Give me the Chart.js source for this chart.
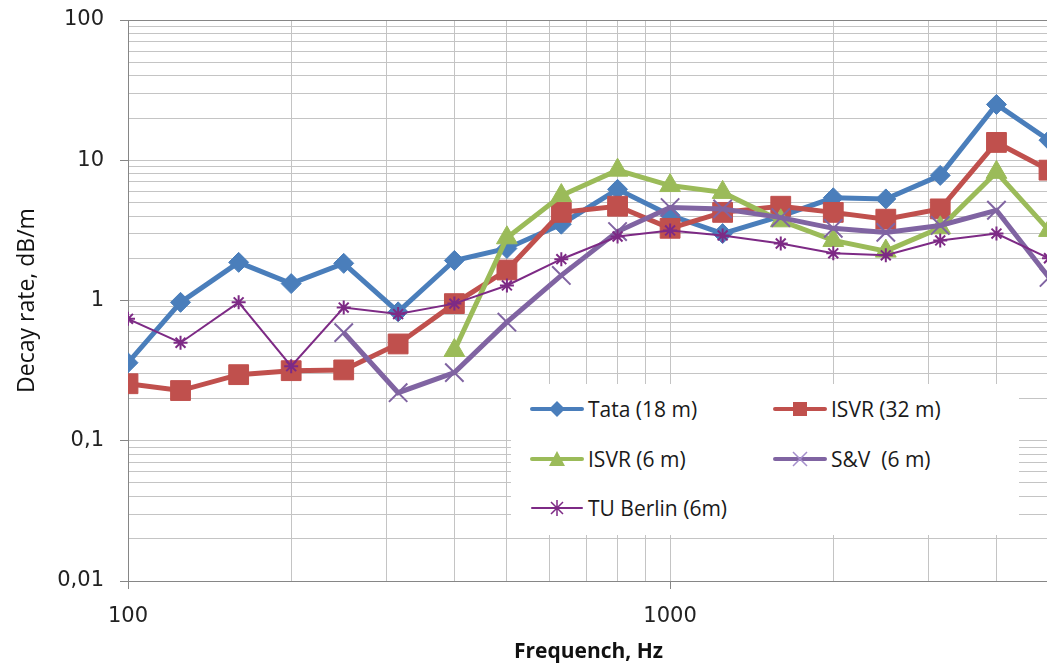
<!DOCTYPE html>
<html>
<head>
<meta charset="utf-8">
<script src="https://cdn.jsdelivr.net/npm/chart.js@4"></script>
<style>
  html, body { margin: 0; padding: 0; overflow: hidden; background: #fff; }
  #wrap { position: relative; width: 1100px; height: 666px; }
  #legend {
    position: absolute; left: 511px; top: 384px; width: 508px; height: 151px;
    background: #fff; font-family: "Open Sans", sans-serif; font-size: 21px; color: #1a1a1a;
  }
  .item { position: absolute; display: flex; align-items: center; white-space: pre; }
  .item svg { margin-right: 4px; }
</style>
</head>
<body>
<div id="wrap">
  <canvas id="chart" width="1100" height="666"></canvas>
  <div id="legend"></div>
</div>
<script>
// 1/3 octave band centre frequencies
const freqs = [100, 125, 160, 200, 250, 315, 400, 500, 630, 800, 1000, 1250, 1600, 2000, 2500, 3150, 4000, 5000];

// decay rate, dB/m
const tata18 = [0.36, 0.97, 1.87, 1.32, 1.84, 0.83, 1.93, 2.35, 3.5, 6.2, 4.05, 3.0, 4.0, 5.4, 5.3, 7.8, 25, 13.9];
const isvr32 = [0.255, 0.228, 0.296, 0.316, 0.32, 0.49, 0.95, 1.65, 4.25, 4.7, 3.27, 4.25, 4.7, 4.25, 3.8, 4.5, 13.4, 8.5];
const isvr6 = [null, null, null, null, null, null, 0.44, 2.8, 5.6, 8.5, 6.6, 5.9, 3.7, 2.68, 2.25, 3.3, 8.2, 3.16];
const sv6 = [null, null, null, null, 0.59, 0.22, 0.306, 0.70, 1.51, 3.1, 4.6, 4.5, 3.9, 3.27, 3.06, 3.43, 4.4, 1.46];
const tuBerlin = [0.74, 0.50, 0.97, 0.34, 0.89, 0.80, 0.95, 1.28, 1.97, 2.86, 3.16, 2.91, 2.55, 2.17, 2.1, 2.68, 3.0, 2.0];

const seriesNames = ["Tata (18 m)", "ISVR (32 m)", "ISVR (6 m)", "S&V  (6 m)", "TU Berlin (6m)"];

// labelled ticks
const xTickLabels = [100, 1000];
const yTickLabels = [0.01, 0.1, 1, 10, 100];

const points = vals => freqs.map((f, i) => ({ x: f, y: vals[i] }));

const styles = [
  { color: "#4a7ebb", width: 5, point: "rectRot", radius: 10, bw: 1 },
  { color: "#c0504d", width: 5, point: "rect", radius: 14, bw: 1 },
  { color: "#9bbb59", width: 5, point: "triangle", radius: 12, bw: 1 },
  { color: "#8064a2", width: 5, point: "crossRot", radius: 13, bw: 2 },
  { color: "#7d2a85", width: 2, point: "star", radius: 7, bw: 2 }
];

const allData = [tata18, isvr32, isvr6, sv6, tuBerlin];

const datasets = allData.map((vals, i) => ({
  label: seriesNames[i],
  data: points(vals),
  borderColor: styles[i].color,
  backgroundColor: styles[i].color,
  borderWidth: styles[i].width,
  pointStyle: styles[i].point,
  pointRadius: styles[i].radius,
  pointHoverRadius: styles[i].radius,
  pointBorderWidth: styles[i].bw,
  tension: 0,
  order: allData.length - i   // later series drawn on top, as in the original
}));

const isNear = (v, list) => list.some(l => Math.abs(Math.log10(v) - Math.log10(l)) < 1e-6);

// keep only 1..9 x 10^n grid ticks
const onlyIntegerMultiples = scale => {
  scale.ticks = scale.ticks.filter(t => {
    const m = t.value / Math.pow(10, Math.floor(Math.log10(t.value) + 1e-9));
    return Math.abs(m - Math.round(m)) < 1e-6;
  });
};

new Chart(document.getElementById("chart"), {
  type: "line",
  data: { datasets },
  options: {
    responsive: false,
    devicePixelRatio: 1,
    animation: false,
    layout: { padding: { left: 0, top: 20, right: 51, bottom: 0 } },
    plugins: { legend: { display: false }, tooltip: { enabled: false } },
    scales: {
      x: {
        type: "logarithmic",
        min: 100,
        max: 5000,
        afterBuildTicks: onlyIntegerMultiples,
        afterFit: s => { s.height = 85; s.paddingLeft = 0; s.paddingRight = 0; },
        border: { color: "#868686" },
        grid: {
          color: "#c4c4c4",
          tickLength: 8,
          tickColor: c => (c.tick && isNear(c.tick.value, xTickLabels)) ? "#868686" : "rgba(0,0,0,0)"
        },
        ticks: {
          autoSkip: false,
          maxRotation: 0,
          padding: 15,
          color: "#222",
          font: { family: "DejaVu Sans", size: 21 },
          callback: v => isNear(v, xTickLabels) ? String(v) : ""
        },
        title: {
          display: true,
          text: "Frequench, Hz",
          color: "#111",
          font: { family: "Open Sans", size: 21, weight: "bold" },
          padding: { top: 0, bottom: 1 }
        }
      },
      y: {
        type: "logarithmic",
        min: 0.01,
        max: 100,
        afterBuildTicks: onlyIntegerMultiples,
        afterFit: s => { s.width = 128; s.paddingTop = 0; s.paddingBottom = 0; },
        border: { color: "#868686" },
        grid: {
          color: c => (c.tick && Math.abs(c.tick.value - 100) < 1e-6) ? "#868686" : "#c4c4c4",
          tickLength: 8,
          tickColor: c => (c.tick && isNear(c.tick.value, yTickLabels)) ? "#868686" : "rgba(0,0,0,0)"
        },
        ticks: {
          autoSkip: false,
          padding: 16,
          color: "#222",
          font: { family: "DejaVu Sans", size: 21 },
          callback: v => isNear(v, yTickLabels) ? String(v).replace(".", ",") : ""
        },
        title: {
          display: true,
          text: "Decay rate, dB/m",
          color: "#111",
          font: { family: "Open Sans", size: 23 },
          padding: { top: 14, bottom: 0 }
        }
      }
    }
  }
});

// legend drawn as HTML inside the plot, like the original
function markerSvg(st) {
  const c = st.color;
  let m = "";
  if (st.point === "rectRot") m = `<polygon points="27,3 35,11 27,19 19,11" fill="${c}"/>`;
  if (st.point === "rect") m = `<rect x="20" y="4" width="14" height="14" fill="${c}"/>`;
  if (st.point === "triangle") m = `<polygon points="27,3 35,18 19,18" fill="${c}"/>`;
  if (st.point === "crossRot") m = `<path d="M20,4 L34,18 M34,4 L20,18" stroke="#a58fcb" stroke-width="1.5"/>`;
  if (st.point === "star") m = `<path d="M21,5 L33,17 M33,5 L21,17 M27,3 L27,19" stroke="${c}" stroke-width="1.5"/>`;
  const lw = st.width > 3 ? 4 : 2;
  return `<svg width="54" height="22" viewBox="0 0 54 22"><line x1="2" y1="11" x2="52" y2="11" stroke="${c}" stroke-width="${lw}" stroke-linecap="round"/>${m}</svg>`;
}

const legendPos = [[19, 26], [262, 26], [19, 76], [262, 76], [19, 125]];
const legend = document.getElementById("legend");
seriesNames.forEach((name, i) => {
  const d = document.createElement("div");
  d.className = "item";
  d.style.left = legendPos[i][0] + "px";
  d.style.top = (legendPos[i][1] - 15) + "px";
  d.innerHTML = markerSvg(styles[i]) + "<span></span>";
  d.querySelector("span").textContent = name;
  legend.appendChild(d);
});
</script>
</body>
</html>
